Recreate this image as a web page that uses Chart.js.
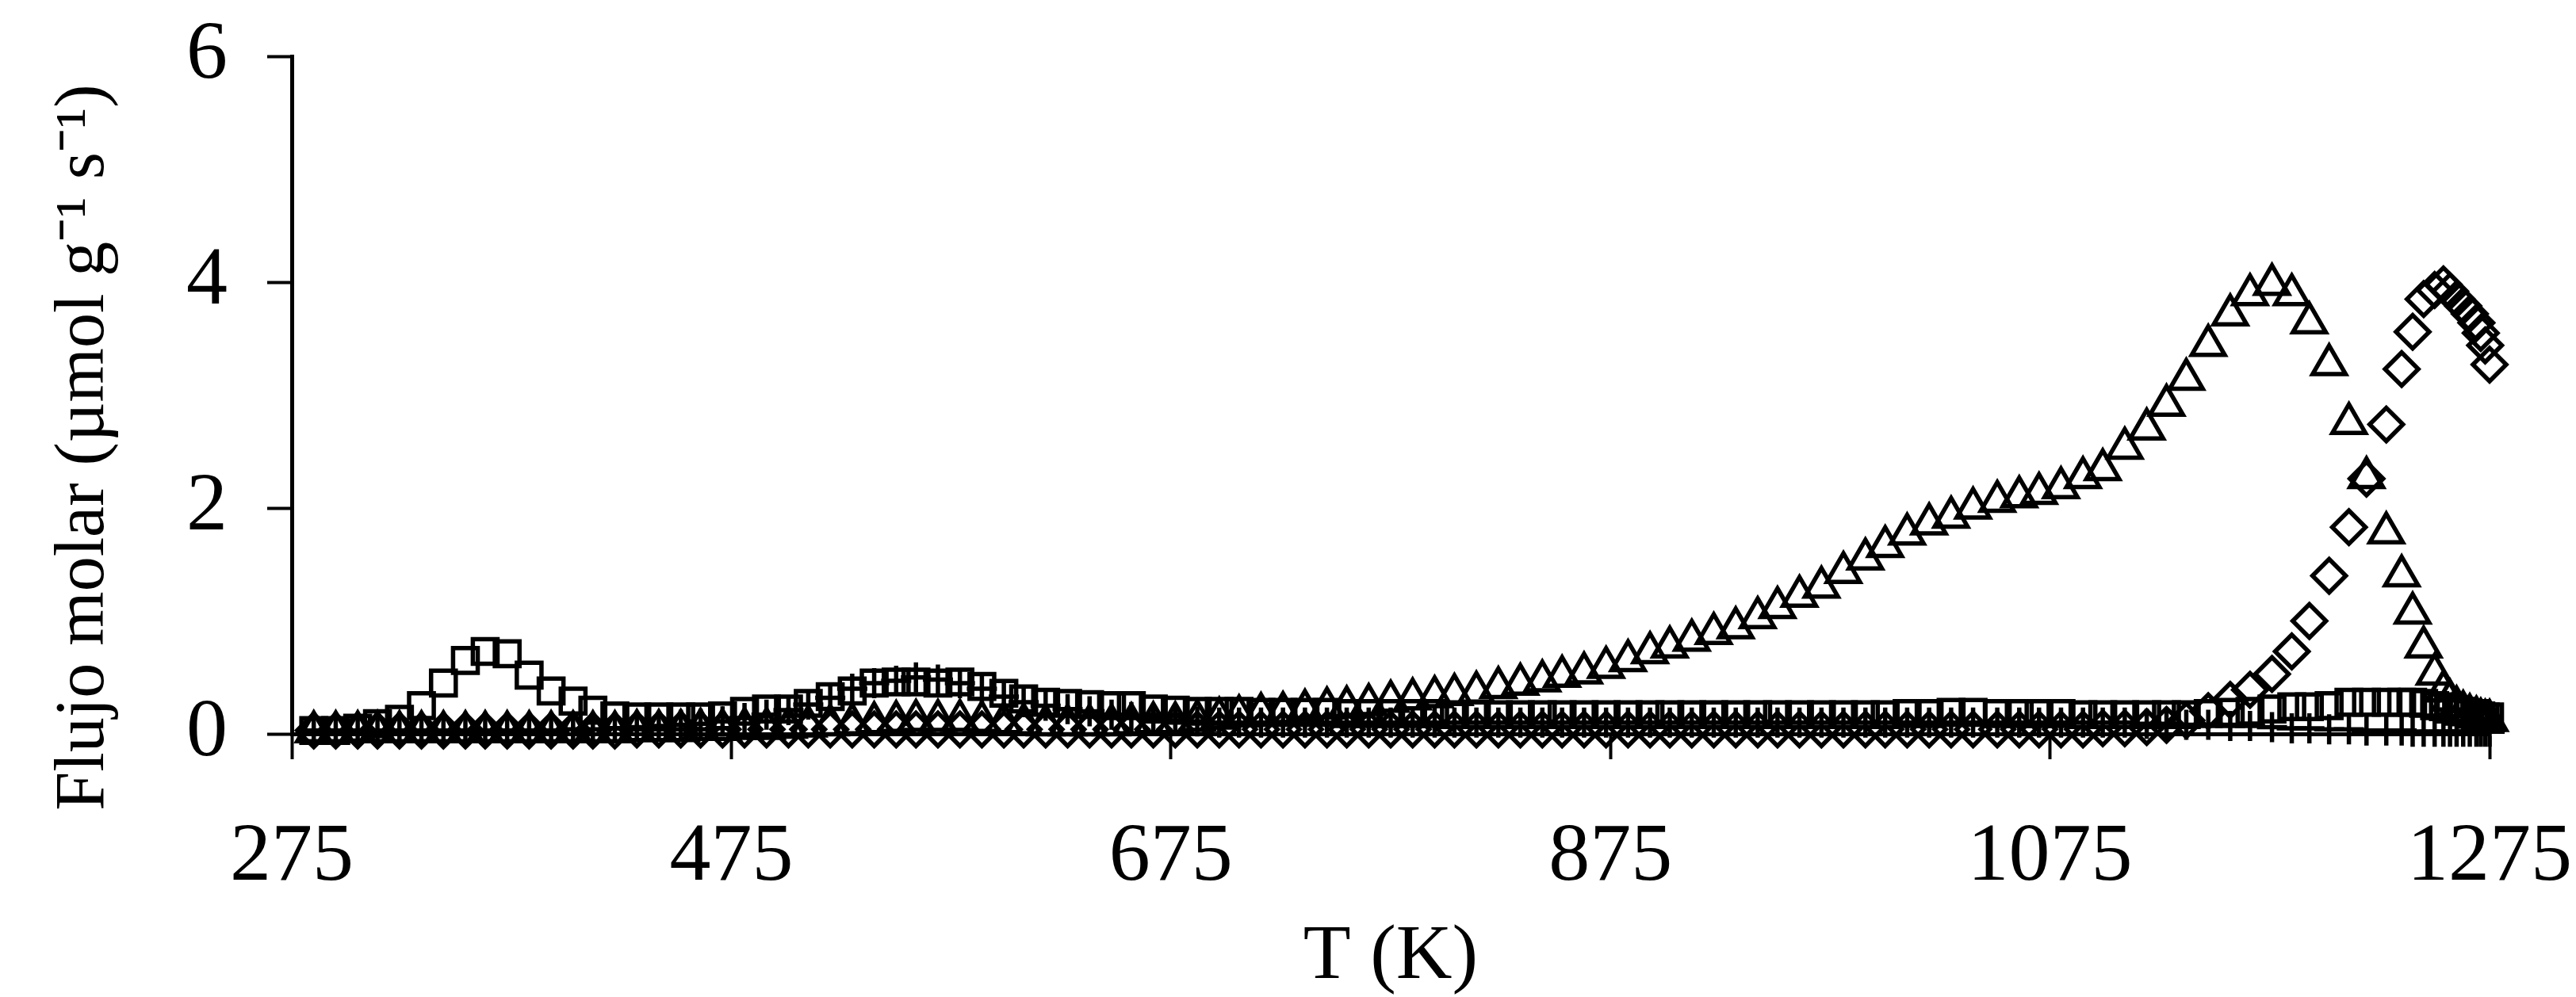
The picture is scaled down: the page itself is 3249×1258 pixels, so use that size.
<!DOCTYPE html>
<html>
<head>
<meta charset="utf-8">
<title>Flujo molar vs T</title>
<script src="https://cdn.jsdelivr.net/npm/chart.js@4.4.1/dist/chart.umd.min.js"></script>
<style>
  html, body { margin: 0; padding: 0; background: #fff; }
  canvas { display: block; }
</style>
</head>
<body>
<canvas id="chart-tpd" width="3249" height="1258"></canvas>
<script>
// Temperatura (K), common to every series
const temps = [
    285, 295, 305, 314, 324, 334, 344, 354, 363, 373,
    383, 393, 403, 412, 422, 432, 442, 452, 461, 471,
    481, 491, 501, 510, 520, 530, 540, 550, 559, 569,
    579, 589, 599, 608, 618, 628, 638, 648, 657, 667,
    677, 687, 697, 706, 716, 726, 736, 746, 755, 765,
    775, 785, 795, 804, 814, 824, 834, 844, 853, 863,
    873, 883, 893, 902, 912, 922, 932, 942, 951, 961,
    971, 981, 991, 1000, 1010, 1020, 1030, 1040, 1051, 1061,
    1070, 1080, 1090, 1099, 1109, 1119, 1128, 1137, 1147, 1157,
    1166, 1176, 1185, 1193, 1202, 1211, 1219, 1228, 1235, 1240,
    1245, 1250, 1254, 1257, 1260, 1263, 1266, 1269, 1271, 1273,
    1275
];

// squares
const squares = [
    0.03, 0.03, 0.05, 0.09, 0.13, 0.25, 0.45, 0.65, 0.73, 0.71,
    0.52, 0.38, 0.29, 0.21, 0.16, 0.15, 0.15, 0.15, 0.15, 0.16,
    0.20, 0.22, 0.22, 0.27, 0.33, 0.38, 0.45, 0.46, 0.46, 0.45,
    0.46, 0.42, 0.36, 0.31, 0.28, 0.27, 0.26, 0.25, 0.25, 0.22,
    0.21, 0.20, 0.20, 0.20, 0.19, 0.19, 0.19, 0.19, 0.18, 0.18,
    0.18, 0.18, 0.18, 0.17, 0.17, 0.17, 0.17, 0.17, 0.17, 0.17,
    0.17, 0.17, 0.17, 0.17, 0.17, 0.17, 0.17, 0.17, 0.17, 0.17,
    0.17, 0.17, 0.17, 0.17, 0.18, 0.18, 0.19, 0.19, 0.18, 0.18,
    0.18, 0.18, 0.17, 0.17, 0.17, 0.17, 0.17, 0.17, 0.18, 0.19,
    0.20, 0.22, 0.24, 0.24, 0.25, 0.28, 0.28, 0.28, 0.28, 0.28,
    0.27, 0.25, 0.24, 0.22, 0.20, 0.20, 0.18, 0.18, 0.16, 0.15,
    0.15
];

// triangles
const triangles = [
    0.02, 0.02, 0.02, 0.02, 0.02, 0.02, 0.02, 0.02, 0.02, 0.02,
    0.02, 0.02, 0.02, 0.02, 0.02, 0.03, 0.03, 0.03, 0.04, 0.04,
    0.05, 0.05, 0.06, 0.07, 0.08, 0.09, 0.10, 0.11, 0.12, 0.12,
    0.12, 0.11, 0.10, 0.09, 0.08, 0.08, 0.08, 0.08, 0.09, 0.10,
    0.10, 0.12, 0.14, 0.16, 0.18, 0.19, 0.21, 0.23, 0.24, 0.26,
    0.29, 0.31, 0.33, 0.35, 0.37, 0.41, 0.44, 0.47, 0.51, 0.54,
    0.59, 0.65, 0.72, 0.77, 0.83, 0.89, 0.94, 1.03, 1.12, 1.22,
    1.30, 1.43, 1.55, 1.66, 1.77, 1.86, 1.92, 2.00, 2.06, 2.10,
    2.13, 2.18, 2.27, 2.34, 2.53, 2.70, 2.91, 3.14, 3.44, 3.71,
    3.89, 3.98, 3.89, 3.64, 3.27, 2.75, 2.27, 1.78, 1.40, 1.07,
    0.77, 0.53, 0.38, 0.30, 0.24, 0.20, 0.17, 0.15, 0.13, 0.12,
    0.12
];

// diamonds
const diamonds = [
    0.03, 0.03, 0.03, 0.03, 0.03, 0.03, 0.03, 0.03, 0.03, 0.03,
    0.03, 0.03, 0.03, 0.03, 0.03, 0.04, 0.04, 0.04, 0.04, 0.04,
    0.04, 0.04, 0.04, 0.04, 0.04, 0.04, 0.04, 0.04, 0.04, 0.04,
    0.04, 0.04, 0.04, 0.04, 0.04, 0.04, 0.04, 0.04, 0.04, 0.04,
    0.04, 0.04, 0.04, 0.04, 0.04, 0.04, 0.04, 0.04, 0.04, 0.04,
    0.04, 0.04, 0.04, 0.04, 0.04, 0.04, 0.04, 0.04, 0.04, 0.04,
    0.04, 0.04, 0.04, 0.04, 0.04, 0.04, 0.04, 0.04, 0.04, 0.04,
    0.04, 0.04, 0.04, 0.04, 0.04, 0.04, 0.04, 0.04, 0.04, 0.04,
    0.04, 0.04, 0.04, 0.05, 0.05, 0.06, 0.08, 0.12, 0.20, 0.30,
    0.39, 0.53, 0.73, 1.00, 1.40, 1.83, 2.26, 2.74, 3.23, 3.56,
    3.85, 3.93, 3.98, 3.92, 3.85, 3.79, 3.72, 3.64, 3.55, 3.44,
    3.27
];

// plus signs
const pluses = [
    0.03, 0.03, 0.03, 0.03, 0.03, 0.03, 0.03, 0.03, 0.03, 0.03,
    0.03, 0.03, 0.04, 0.04, 0.05, 0.06, 0.07, 0.08, 0.09, 0.11,
    0.14, 0.17, 0.21, 0.26, 0.32, 0.40, 0.45, 0.47, 0.50, 0.48,
    0.45, 0.40, 0.33, 0.28, 0.25, 0.22, 0.20, 0.17, 0.15, 0.13,
    0.12, 0.11, 0.10, 0.10, 0.10, 0.10, 0.10, 0.10, 0.10, 0.10,
    0.10, 0.10, 0.10, 0.10, 0.10, 0.10, 0.10, 0.10, 0.10, 0.10,
    0.10, 0.10, 0.10, 0.10, 0.10, 0.10, 0.10, 0.10, 0.10, 0.10,
    0.10, 0.10, 0.10, 0.10, 0.10, 0.10, 0.10, 0.10, 0.10, 0.10,
    0.10, 0.10, 0.10, 0.10, 0.10, 0.09, 0.09, 0.08, 0.08, 0.07,
    0.07, 0.06, 0.05, 0.05, 0.04, 0.04, 0.03, 0.03, 0.03, 0.02,
    0.02, 0.02, 0.02, 0.02, 0.02, 0.02, 0.02, 0.02, 0.02, 0.02,
    0.02
];

const xTicks = [275, 475, 675, 875, 1075, 1275];
const yTicks = [0, 2, 4, 6];

const SERIF = "'Liberation Serif', 'Times New Roman', serif";

function toPoints(values) {
    return temps.map((t, i) => ({ x: t, y: values[i] }));
}

function makeSet(label, values, style, radius) {
    return {
        label,
        data: toPoints(values),
        pointStyle: style,
        pointRadius: radius,
        pointBorderWidth: 5.5,
        pointBorderColor: '#000',
        pointBackgroundColor: 'rgba(0,0,0,0)',
        showLine: false,
        clip: false
    };
}

// fixed axis boxes, no extra padding from the labels
function fixX(scale) {
    scale.height = 332;
    scale.paddingLeft = 0;
    scale.paddingRight = 0;
}

function fixY(scale) {
    scale.width = 368;
    scale.paddingTop = 0;
    scale.paddingBottom = 0;
}

new Chart(document.getElementById('chart-tpd'), {
    type: 'scatter',
    data: {
        datasets: [
            makeSet('cuadrados', squares, 'rect', 22),
            makeSet('triángulos', triangles, 'triangle', 24),
            makeSet('rombos', diamonds, 'rectRot', 21),
            makeSet('cruces', pluses, 'cross', 19)
        ]
    },
    options: {
        responsive: false,
        animation: false,
        devicePixelRatio: 1,
        layout: {
            autoPadding: false,
            padding: { top: 71, right: 109, bottom: 0, left: 0 }
        },
        plugins: {
            legend: { display: false },
            tooltip: { enabled: false }
        },
        scales: {
            x: {
                type: 'linear',
                min: xTicks[0],
                max: xTicks[xTicks.length - 1],
                afterFit: fixX,
                afterBuildTicks: (scale) => { scale.ticks = xTicks.map(v => ({ value: v })); },
                ticks: {
                    color: '#000',
                    padding: 62,
                    maxRotation: 0,
                    autoSkip: false,
                    font: { family: SERIF, size: 104 },
                    callback: (v) => String(v)
                },
                grid: { drawOnChartArea: false, drawTicks: true, tickLength: 32, tickWidth: 4, tickColor: '#000' },
                border: { display: true, color: '#000', width: 5 },
                title: {
                    display: true,
                    text: 'T (K)',
                    color: '#000',
                    font: { family: SERIF, size: 98, lineHeight: 1 },
                    padding: { top: 0, bottom: 1 }
                }
            },
            y: {
                min: yTicks[0],
                max: yTicks[yTicks.length - 1],
                afterFit: fixY,
                afterBuildTicks: (scale) => { scale.ticks = yTicks.map(v => ({ value: v })); },
                ticks: {
                    color: '#000',
                    padding: 50,
                    font: { family: SERIF, size: 104 },
                    callback: (v) => String(v)
                },
                grid: { drawOnChartArea: false, drawTicks: true, tickLength: 31, tickWidth: 4, tickColor: '#000' },
                border: { display: true, color: '#000', width: 5 },
                title: {
                    display: true,
                    // trailing en spaces push the rotated title a little lower, as in the figure
                    text: 'Flujo molar (\u00B5mol g\u207B\u00B9 s\u207B\u00B9)\u2002\u2002\u2002',
                    color: '#000',
                    font: { family: SERIF, size: 88, lineHeight: 1.2 },
                    padding: { top: 54, bottom: 0 }
                }
            }
        }
    }
});
</script>
</body>
</html>
